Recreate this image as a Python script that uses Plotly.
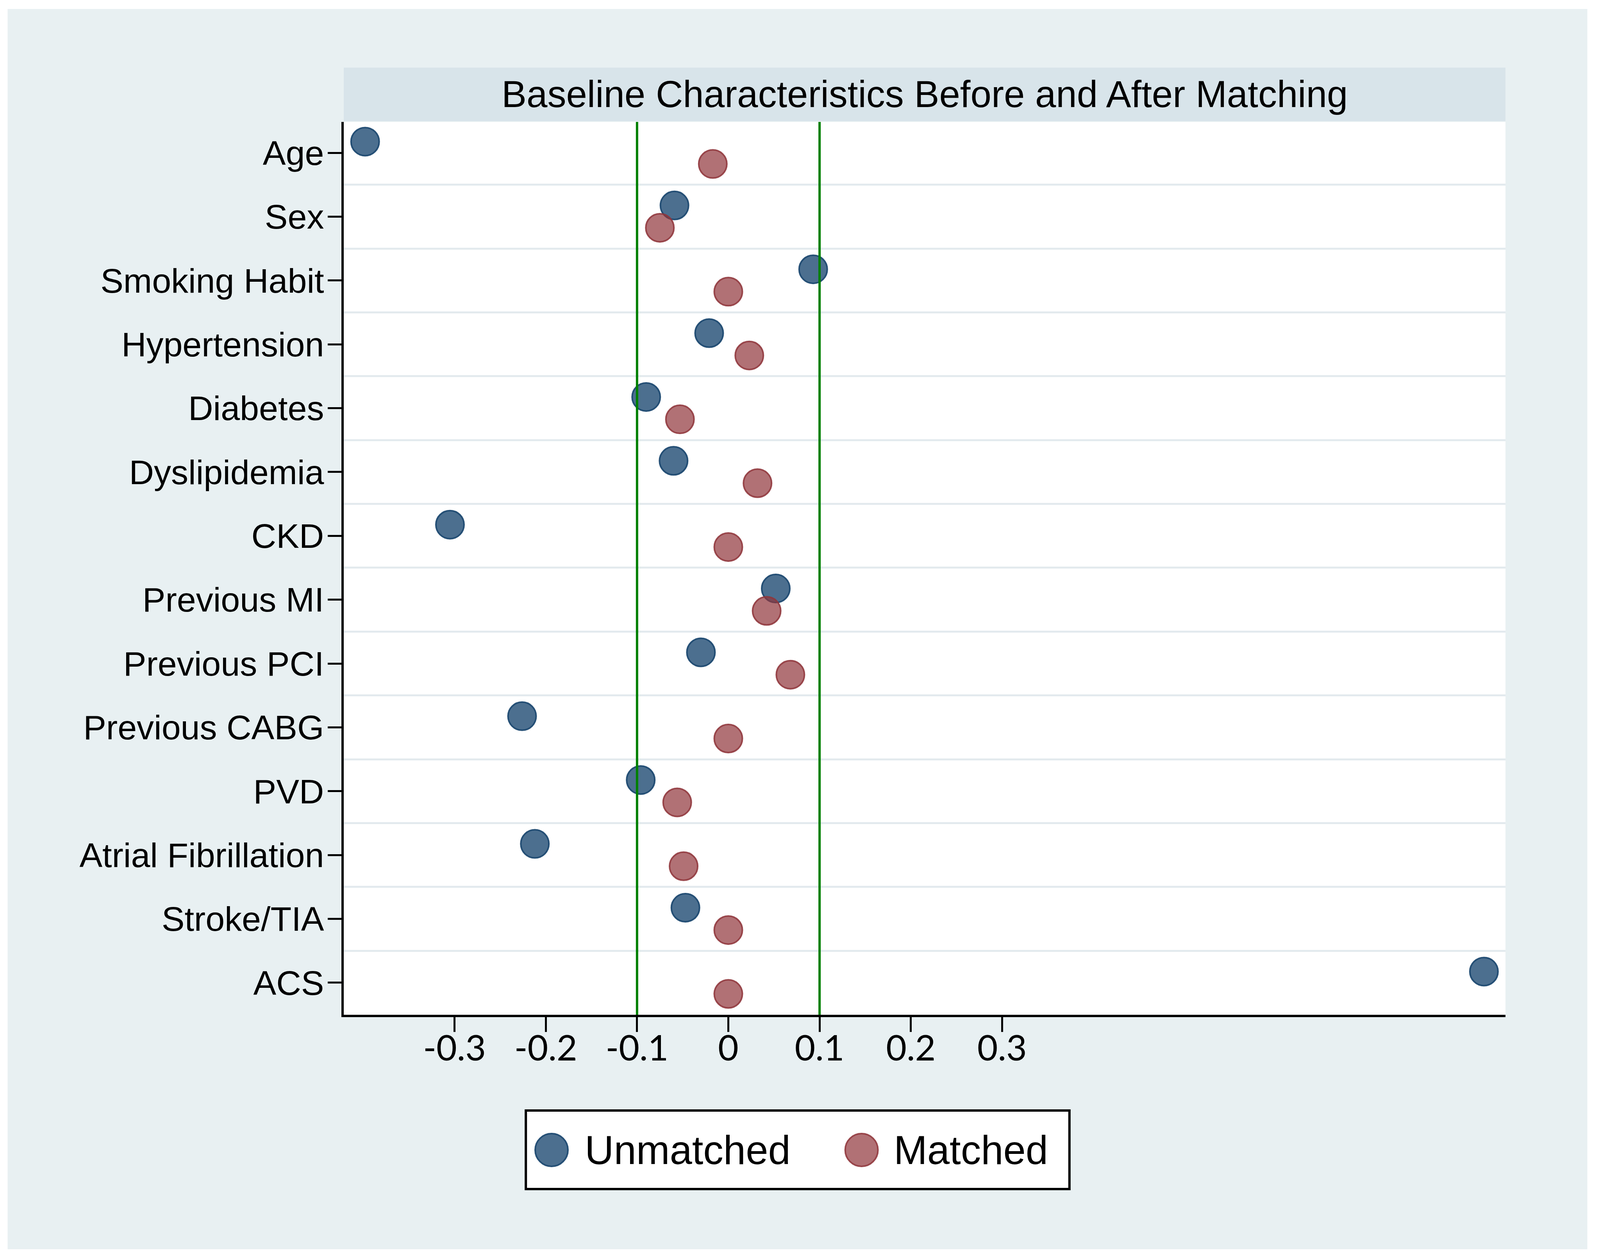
import plotly.graph_objects as go

# ---------------- data ----------------
categories = ["Age", "Sex", "Smoking Habit", "Hypertension", "Diabetes", "Dyslipidemia",
              "CKD", "Previous MI", "Previous PCI", "Previous CABG", "PVD",
              "Atrial Fibrillation", "Stroke/TIA", "ACS"]
unmatched = [-0.398, -0.059, 0.093, -0.021, -0.090, -0.060, -0.305, 0.052, -0.030,
             -0.226, -0.096, -0.212, -0.047, 0.828]
matched = [-0.017, -0.075, 0.000, 0.023, -0.053, 0.032, 0.000, 0.042, 0.068,
           0.000, -0.056, -0.049, 0.000, 0.000]
series_names = ["Unmatched", "Matched"]
x_tick_values = [-0.3, -0.2, -0.1, 0, 0.1, 0.2, 0.3]
x_tick_labels = ["-0.3", "-0.2", "-0.1", "0", "0.1", "0.2", "0.3"]
reference_lines = [-0.1, 0.1]
title_text = "Baseline Characteristics Before and After Matching"

# ---------------- geometry ----------------
# The page is photographed in a 4096x3222 viewport; the layout is laid out
# proportionally to the 4418x3222 reference.
REF_W, REF_H = 4418, 3222
CAP_W, CAP_H = 4096, 3222
PAGE_MARGIN = 8
W, H = CAP_W - 2 * PAGE_MARGIN, CAP_H - 2 * PAGE_MARGIN
KX, KY = CAP_W / REF_W, CAP_H / REF_H
FS = 0.95  # font / marker scale


def fx(xr):
    return xr * KX - PAGE_MARGIN


def fy(yr):
    return yr * KY - PAGE_MARGIN


ML = round(fx(949))
MR = round(W - fx(4157))
MT = round(fy(312))
MB = round(H - fy(2597))
PW, PH = W - ML - MR, H - MT - MB


def px_x(xr):
    return (fx(xr) - ML) / PW


def px_y(yr):
    return (H - MB - fy(yr)) / PH


NAVY_FILL = "rgba(26,71,111,0.78)"
NAVY_LINE = "rgba(26,71,111,0.92)"
MAROON_FILL = "rgba(144,53,59,0.70)"
MAROON_LINE = "rgba(144,53,59,0.88)"
OUTER_BG = "#e8f0f2"
HEADER_BG = "#d8e4ea"
GRID = "#e3eaee"
ARIAL = "Liberation Sans, Arial, sans-serif"

idx = list(range(len(categories)))
off = 0.175
y_unmatched = [i - off for i in idx]
y_matched = [i + off for i in idx]

MS = round(76 * FS)
fig = go.Figure()
fig.add_trace(go.Scatter(
    x=unmatched, y=y_unmatched, mode="markers", name=series_names[0],
    marker=dict(size=MS, color=NAVY_FILL, line=dict(color=NAVY_LINE, width=4)),
    showlegend=False, cliponaxis=False))
fig.add_trace(go.Scatter(
    x=matched, y=y_matched, mode="markers", name=series_names[1],
    marker=dict(size=MS, color=MAROON_FILL, line=dict(color=MAROON_LINE, width=4)),
    showlegend=False, cliponaxis=False))

shapes = []
# outer light background (white frame around it)
shapes.append(dict(type="rect", xref="paper", yref="paper",
                   x0=px_x(21), x1=px_x(4383), y0=px_y(3197), y1=px_y(23),
                   fillcolor=OUTER_BG, line=dict(width=0), layer="below"))
# plot area
shapes.append(dict(type="rect", xref="paper", yref="paper", x0=0, x1=1, y0=0, y1=1,
                   fillcolor="white", line=dict(width=0), layer="below"))
# title strip
shapes.append(dict(type="rect", xref="paper", yref="paper",
                   x0=0, x1=1, y0=px_y(310), y1=px_y(173),
                   fillcolor=HEADER_BG, line=dict(width=0), layer="below"))
# reference lines at +-0.1
for v in reference_lines:
    shapes.append(dict(type="line", xref="x", yref="paper", x0=v, x1=v, y0=0, y1=1,
                       line=dict(color="#008000", width=6), layer="above"))
# legend box
shapes.append(dict(type="rect", xref="paper", yref="paper",
                   x0=px_x(1452), x1=px_x(2953), y0=px_y(3043), y1=px_y(2842),
                   fillcolor="white", line=dict(color="black", width=6)))
# legend keys
LR = round(44 * FS)
for cx, fc, lc in [(1523, NAVY_FILL, NAVY_LINE), (2379, MAROON_FILL, MAROON_LINE)]:
    shapes.append(dict(type="circle", xref="paper", yref="paper",
                       xsizemode="pixel", ysizemode="pixel",
                       xanchor=px_x(cx), yanchor=px_y(2943),
                       x0=-LR, x1=LR, y0=-LR, y1=LR,
                       fillcolor=fc, line=dict(color=lc, width=4)))

annotations = [
    dict(text=title_text, xref="paper", yref="paper", x=0.5, y=px_y(241),
         xanchor="center", yanchor="middle", showarrow=False,
         font=dict(family=ARIAL, size=round(103 * 0.935), color="black")),
    dict(text=series_names[0], xref="paper", yref="paper", x=px_x(1612), y=px_y(2943),
         xanchor="left", yanchor="middle", showarrow=False,
         font=dict(family=ARIAL, size=round(108 * FS), color="black")),
    dict(text=series_names[1], xref="paper", yref="paper", x=px_x(2466), y=px_y(2943),
         xanchor="left", yanchor="middle", showarrow=False,
         font=dict(family=ARIAL, size=round(108 * FS), color="black")),
]

fig.update_layout(
    width=W, height=H, autosize=False,
    margin=dict(l=ML, r=MR, t=MT, b=MB, pad=0),
    paper_bgcolor="white", plot_bgcolor="white",
    shapes=shapes, annotations=annotations, showlegend=False,
    xaxis=dict(range=[-0.4214, 0.8516], tickmode="array", tickvals=x_tick_values,
               ticktext=x_tick_labels, ticks="outside", ticklen=38, tickwidth=5,
               tickcolor="black", showgrid=False, zeroline=False,
               showline=True, linecolor="black", linewidth=6,
               tickfont=dict(family="Lato, sans-serif", size=round(96 * FS), color="black"),
               ticklabelstandoff=-36),
    yaxis=dict(range=[13.502, -0.4835], tickmode="array", tickvals=idx,
               ticktext=categories, ticks="outside", ticklen=35, tickwidth=5,
               tickcolor="black", showgrid=False, zeroline=False,
               showline=True, linecolor="black", linewidth=6,
               tickfont=dict(family=ARIAL, size=round(93 * FS), color="black"),
               ticklabelstandoff=-8,
               minor=dict(tickmode="array", tickvals=[i + 0.5 for i in idx[:-1]],
                          showgrid=True, gridcolor=GRID, gridwidth=5, ticks="")),
)

fig.write_html("out.html")
